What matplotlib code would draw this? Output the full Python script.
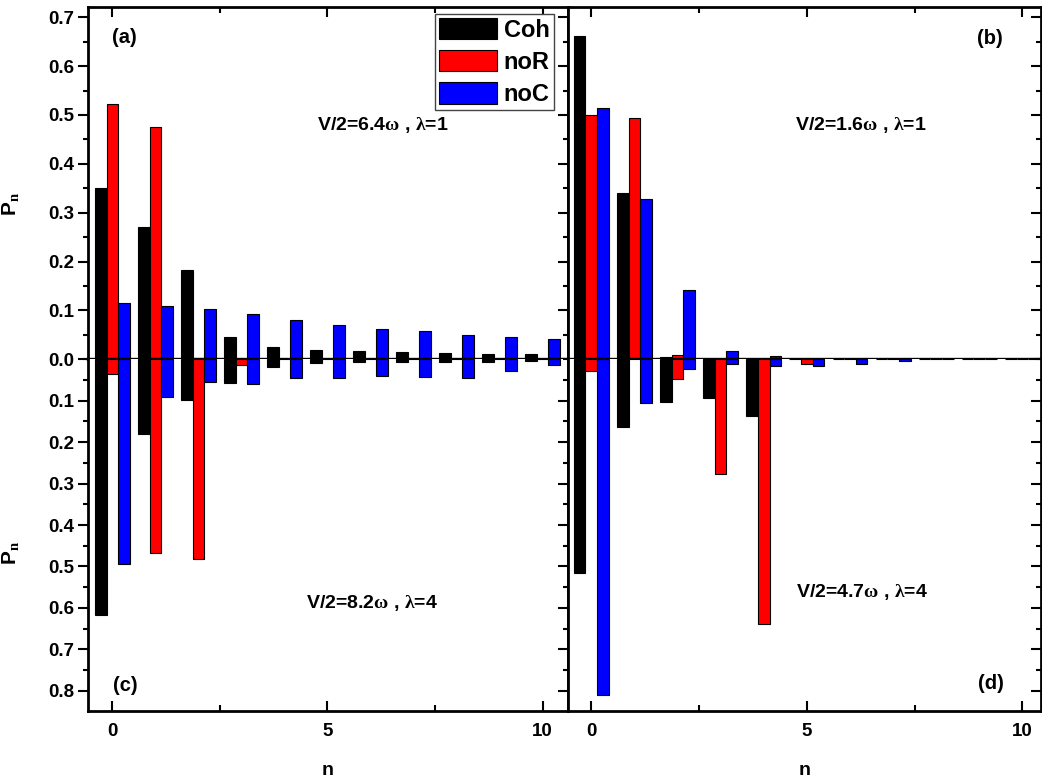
import numpy as np
import matplotlib
matplotlib.use("Agg")
import matplotlib.pyplot as plt
from matplotlib.ticker import MultipleLocator, NullFormatter

plt.rcParams["font.family"] = ["Liberation Sans", "DejaVu Sans"]
plt.rcParams["font.weight"] = "bold"
plt.rcParams["mathtext.fontset"] = "custom"
plt.rcParams["mathtext.rm"] = "Liberation Serif"
plt.rcParams["mathtext.bf"] = "Liberation Sans:bold"
plt.rcParams["mathtext.it"] = "Liberation Sans:italic"

# ── photon-number distributions P_n, n = 0..10 ───────────────────────────────
n = np.arange(11)
SERIES = ["Coh", "noR", "noC"]
COLS   = {"Coh": "#000000", "noR": "#ff0000", "noC": "#0000ff"}

# (a) V/2=6.4w, lambda=1
coh_a = [0.350, 0.270, 0.183, 0.046, 0.026, 0.020, 0.017, 0.014, 0.012, 0.011, 0.010]
nor_a = [0.523, 0.475, 0.003, 0.0, 0.0, 0.0, 0.0, 0.0, 0.0, 0.0, 0.0]
noc_a = [0.115, 0.109, 0.103, 0.093, 0.081, 0.071, 0.063, 0.057, 0.050, 0.045, 0.041]

# (b) V/2=1.6w, lambda=1
coh_b = [0.661, 0.340, 0.004, 0.0, 0.0, 0.0, 0.0, 0.0, 0.0, 0.0, 0.0]
nor_b = [0.501, 0.493, 0.009, 0.0, 0.0, 0.0, 0.0, 0.0, 0.0, 0.0, 0.0]
noc_b = [0.514, 0.328, 0.141, 0.016, 0.006, 0.0, 0.0, 0.0, 0.0, 0.0, 0.0]

# (c) V/2=8.2w, lambda=4
coh_c = [0.618, 0.180, 0.098, 0.058, 0.019, 0.010, 0.007, 0.007, 0.007, 0.006, 0.004]
nor_c = [0.036, 0.467, 0.481, 0.015, 0.0, 0.0, 0.0, 0.0, 0.0, 0.0, 0.0]
noc_c = [0.494, 0.092, 0.056, 0.060, 0.046, 0.044, 0.040, 0.043, 0.046, 0.029, 0.015]

# (d) V/2=4.7w, lambda=4
coh_d = [0.515, 0.164, 0.102, 0.094, 0.136, 0.0, 0.0, 0.0, 0.0, 0.0, 0.0]
nor_d = [0.028, 0.0, 0.048, 0.276, 0.638, 0.011, 0.0, 0.0, 0.0, 0.0, 0.0]
noc_d = [0.811, 0.106, 0.024, 0.012, 0.016, 0.016, 0.011, 0.005, 0.0, 0.0, 0.0]

PANELS = {
    "a": dict(vals=[coh_a, nor_a, noc_a], text="V/2=6.4$\\mathrm{\\omega}$ , $\\mathrm{\\lambda}$=1"),
    "b": dict(vals=[coh_b, nor_b, noc_b], text="V/2=1.6$\\mathrm{\\omega}$ , $\\mathrm{\\lambda}$=1"),
    "c": dict(vals=[coh_c, nor_c, noc_c], text="V/2=8.2$\\mathrm{\\omega}$ , $\\mathrm{\\lambda}$=4"),
    "d": dict(vals=[coh_d, nor_d, noc_d], text="V/2=4.7$\\mathrm{\\omega}$ , $\\mathrm{\\lambda}$=4"),
}

# ── layout ───────────────────────────────────────────────────────────────────
fig = plt.figure(figsize=(10.42, 7.78), dpi=100)
x0, xm, x1 = 0.0847, 0.5450, 0.9990
y0, ym, y1 = 0.0865, 0.5382, 0.9916
axes = {
    "a": fig.add_axes([x0, ym, xm - x0, y1 - ym]),
    "b": fig.add_axes([xm, ym, x1 - xm, y1 - ym]),
    "c": fig.add_axes([x0, y0, xm - x0, ym - y0]),
    "d": fig.add_axes([xm, y0, x1 - xm, ym - y0]),
}
XLIM = {"a": (-0.563, 10.59), "c": (-0.563, 10.59),
        "b": (-0.543, 10.43), "d": (-0.543, 10.43)}

bar_w   = 0.27
offsets = np.array([-1, 0, 1]) * bar_w
SPINE_W = 2.0
TICK_FS = 13.5

for key, ax in axes.items():
    top  = key in ("a", "b")
    left = key in ("a", "c")
    for si, (s, vals) in enumerate(zip(SERIES, PANELS[key]["vals"])):
        ax.bar(n + offsets[si], vals, width=bar_w, color=COLS[s],
               edgecolor="black", linewidth=0.8, label=s, zorder=2)

    ax.set_xlim(*XLIM[key])
    if top:
        ax.set_ylim(0, 0.722)
        ax.yaxis.set_major_locator(MultipleLocator(0.1))
        ax.spines["bottom"].set_visible(False)
        ax.axhline(0, color="black", lw=2.4, zorder=5, clip_on=False)
    else:
        ax.set_ylim(0.848, 0)
        ax.set_yticks(np.arange(0.1, 0.81, 0.1))
        ax.spines["top"].set_visible(False)
    ax.yaxis.set_minor_locator(MultipleLocator(0.05))
    ax.yaxis.set_major_formatter(plt.FuncFormatter(lambda v, p: f"{v:.1f}"))
    ax.xaxis.set_major_locator(MultipleLocator(5))
    ax.xaxis.set_minor_locator(MultipleLocator(2.5))

    for sp in ax.spines.values():
        sp.set_linewidth(SPINE_W)

    # x ticks point inward: on top edge for upper panels, bottom edge for lower
    ax.tick_params(axis="x", which="both", direction="in", width=1.5,
                   top=top, bottom=not top, labelbottom=not top,
                   labelsize=TICK_FS, pad=9)
    ax.tick_params(axis="x", which="major", length=7)
    ax.tick_params(axis="x", which="minor", length=4)

    if left:
        ax.tick_params(axis="y", which="both", left=True, right=False,
                       direction="out", width=1.5, labelsize=TICK_FS, pad=3)
        ax.tick_params(axis="y", which="major", length=7.2)
        ax.tick_params(axis="y", which="minor", length=3.6)
        sec = ax.secondary_yaxis("right")
        sec.spines["right"].set_visible(False)
        sec.yaxis.set_major_locator(ax.yaxis.get_major_locator())
        sec.yaxis.set_minor_locator(MultipleLocator(0.05))
        sec.yaxis.set_major_formatter(NullFormatter())
        sec.tick_params(axis="y", which="both", direction="in", width=1.5)
        sec.tick_params(axis="y", which="major", length=7.2)
        sec.tick_params(axis="y", which="minor", length=3.6)
        ax.set_ylabel(r"$\mathbf{P}_\mathrm{n}$", fontsize=15)
        ax.yaxis.set_label_coords(-0.138, 0.44 if top else 0.45)
    else:
        ax.tick_params(axis="y", which="both", left=False, right=True,
                       labelleft=False, direction="in", width=1.5)
        ax.tick_params(axis="y", which="major", length=7.2)
        ax.tick_params(axis="y", which="minor", length=3.6)

    if not top:
        ax.set_xlabel("n", fontsize=14, fontweight="bold", labelpad=16)

# ── panel letters and parameter labels ───────────────────────────────────────
LETTER_POS = {"a": (0.049, 0.913), "b": (0.865, 0.910),
              "c": (0.051, 0.073), "d": (0.867, 0.078)}
TEXT_POS   = {"a": (0.476, 0.664), "b": (0.480, 0.664),
              "c": (0.454, 0.306), "d": (0.4815, 0.339)}
for key, ax in axes.items():
    lx, ly = LETTER_POS[key]
    ax.text(lx, ly, f"({key})", transform=ax.transAxes, fontsize=14.5,
            ha="left", va="center")
    tx, ty = TEXT_POS[key]
    ax.text(tx, ty, PANELS[key]["text"], transform=ax.transAxes, fontsize=14,
            ha="left", va="center")

leg = axes["a"].legend(loc="upper right", bbox_to_anchor=(0.971, 0.979),
                       fontsize=17, handlelength=2.45, handleheight=1.0,
                       labelspacing=0.36, handletextpad=0.3, borderpad=0.18,
                       borderaxespad=0, fancybox=False, framealpha=1)
leg.get_frame().set_edgecolor("#444444")
leg.get_frame().set_linewidth(1.0)
leg.set_zorder(10)

fig.savefig("out.png", dpi=100)
